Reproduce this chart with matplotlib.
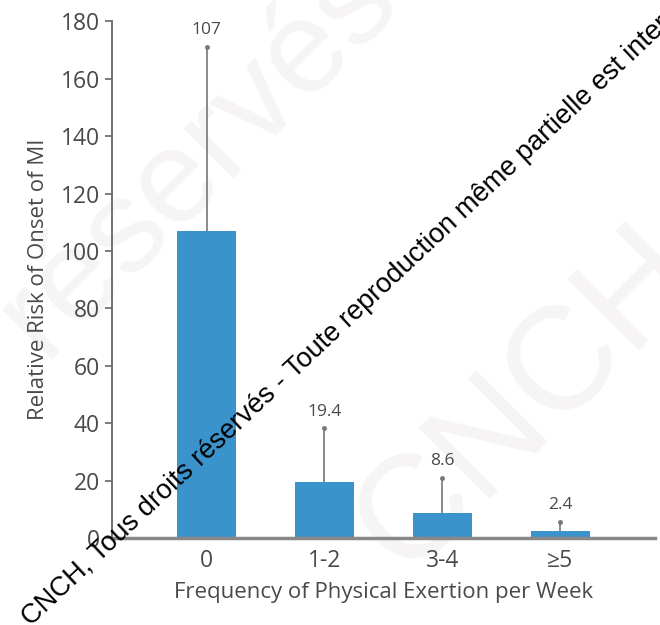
import numpy as np
import matplotlib.pyplot as plt

# Data
categories = ["0", "1-2", "3-4", "\u22655"]
risk = [107, 19.4, 8.6, 2.4]
upper_ci = [171, 38.3, 20.9, 5.6]
value_labels = ["107", "19.4", "8.6", "2.4"]
yticks = [0, 20, 40, 60, 80, 100, 120, 140, 160, 180]

bar_color = "#3b93cc"
text_color = "#4a4a4a"

plt.rcParams['font.family'] = ['Open Sans', 'DejaVu Sans']

fig = plt.figure(figsize=(6.6, 6.25), dpi=100)
fig.patch.set_facecolor("white")

# faint background watermark
fig.text(0.30, 0.75, "réservés", fontsize=95, color="#f6f4f4", rotation=45,
         ha="center", va="center", family="Liberation Sans", zorder=-5)
fig.text(0.80, 0.36, "CNCH", fontsize=105, color="#f6f4f4", rotation=45,
         ha="center", va="center", family="Liberation Sans", zorder=-5)

ax = fig.add_axes([0.170, 0.139, 0.822, 0.827])
ax.patch.set_alpha(0)

x = np.arange(len(categories))
err = [np.zeros(len(risk)), np.array(upper_ci) - np.array(risk)]
ax.bar(x, risk, width=0.5, color=bar_color, zorder=2)
ax.errorbar(x, risk, yerr=err, fmt="none", ecolor="#777777", elinewidth=1.2,
            capsize=0, zorder=3)
ax.plot(x, upper_ci, "o", color="#777777", markersize=2.5, zorder=3)

for xi, top, lab in zip(x, upper_ci, value_labels):
    ax.text(xi, top + 3, lab, ha="center", va="bottom", fontsize=12.5,
            color=text_color)

ax.set_xlim(-0.8, 3.8)
ax.set_ylim(0, 180)
ax.set_yticks(yticks)
ax.set_xticks(x)
ax.set_xticklabels(categories)

for s in ["top", "right"]:
    ax.spines[s].set_visible(False)
ax.spines["left"].set_color("#666666")
ax.spines["left"].set_linewidth(1.3)
ax.spines["bottom"].set_color("#888888")
ax.spines["bottom"].set_linewidth(2.5)

ax.tick_params(axis="y", length=5, width=1.2, color="#666666",
               labelsize=16.5, labelcolor=text_color, pad=4)
ax.tick_params(axis="x", length=0, labelsize=16.5, labelcolor=text_color, pad=8)

ax.set_xlabel("Frequency of Physical Exertion per Week", fontsize=16,
              color=text_color, labelpad=6)
ax.set_ylabel("Relative Risk of Onset of MI", fontsize=16, color=text_color,
              labelpad=8)

# copyright line across the figure
fig.text(0.047, -0.003,
         "CNCH, Tous droits réservés - Toute reproduction même partielle est interdite",
         fontsize=19.6, color="black", rotation=43.2, rotation_mode="anchor",
         ha="left", va="baseline", family="Liberation Sans", zorder=10)

fig.savefig("out.png", dpi=100)
